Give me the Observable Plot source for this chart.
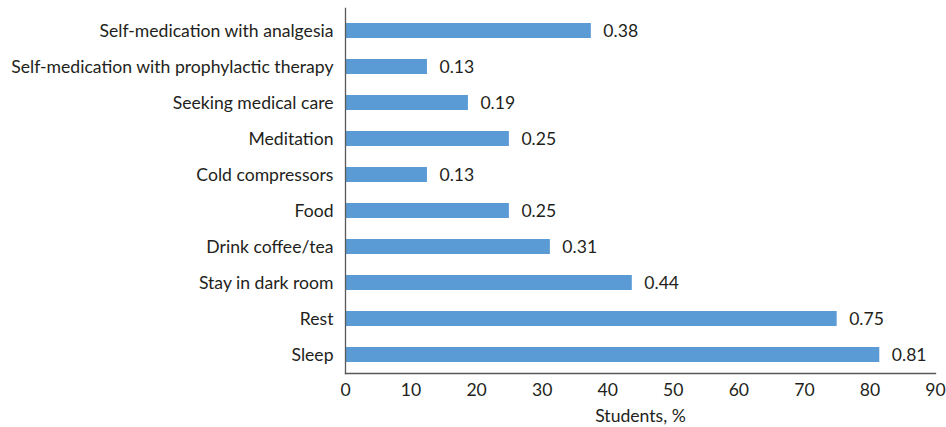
<!DOCTYPE html>
<html><head><meta charset="utf-8">
<script src="https://cdn.jsdelivr.net/npm/d3@7"></script>
<script src="https://cdn.jsdelivr.net/npm/@observablehq/plot@0.6"></script>
<style>body{margin:0;background:#fff}</style>
</head><body><div id="chart"></div>
<script>
const categories = [
  "Self-medication with analgesia",
  "Self-medication with prophylactic therapy",
  "Seeking medical care",
  "Meditation",
  "Cold compressors",
  "Food",
  "Drink coffee/tea",
  "Stay in dark room",
  "Rest",
  "Sleep"
];
const values = [37.5, 12.5, 18.75, 25, 12.5, 25, 31.25, 43.75, 75, 81.5];
const valueLabels = ["0.38", "0.13", "0.19", "0.25", "0.13", "0.25", "0.31", "0.44", "0.75", "0.81"];
const xTicks = [0, 10, 20, 30, 40, 50, 60, 70, 80, 90];
const xTitle = "Students, %";

const data = categories.map((c, i) => ({category: c, value: values[i], label: valueLabels[i]}));

const ink = "#231f20";
const fs = 17.6;
const chart = Plot.plot({
  width: 946,
  height: 427,
  marginLeft: 345,
  marginRight: 11,
  marginTop: 8,
  marginBottom: 54,
  style: {fontFamily: "Lato", fontSize: fs + "px", color: ink, background: "#fff"},
  x: {domain: [0, 90]},
  y: {domain: categories, paddingInner: 0.573, paddingOuter: 0.321, align: 0.57},
  marks: [
    Plot.barX(data, {x: "value", y: "category", fill: "#5b9bd5"}),
    Plot.text(data, {x: "value", y: "category", text: "label", textAnchor: "start", dx: 12, fill: ink, fontSize: fs}),
    Plot.frame({anchor: "left", stroke: "#595959", strokeWidth: 1.3}),
    Plot.frame({anchor: "bottom", stroke: "#595959", strokeWidth: 1.3}),
    Plot.axisY({tickSize: 0, tickPadding: 12, label: null, fontSize: fs, fill: ink}),
    Plot.axisX({ticks: xTicks, tickSize: 0, tickPadding: 10, label: null, fontSize: fs, fill: ink}),
    Plot.text([xTitle], {frameAnchor: "bottom", text: d => d, dy: 43, lineAnchor: "middle", fill: ink, fontSize: fs})
  ]
});
document.getElementById("chart").append(chart);
</script>
</body></html>
